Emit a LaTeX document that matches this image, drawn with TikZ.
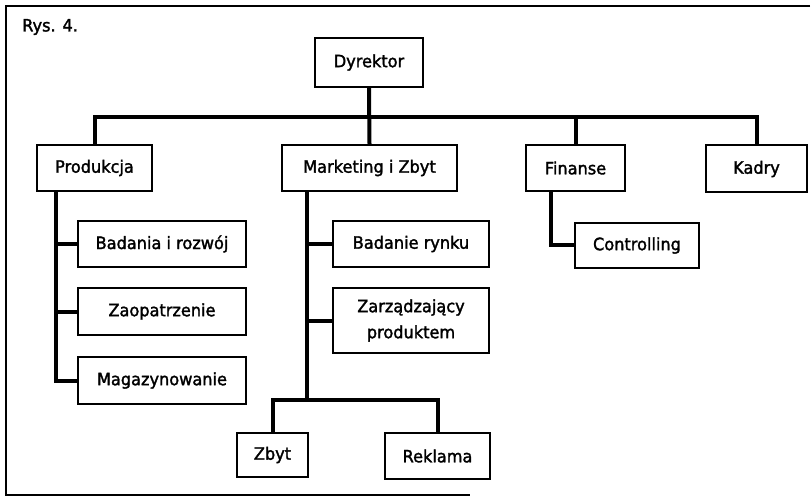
\documentclass[tikz,border=0pt]{standalone}
\usepackage{fontspec}
\setmainfont{DejaVu Sans}[FakeBold=1.8, FakeStretch=0.95]
\usetikzlibrary{calc}
\begin{document}
\begin{tikzpicture}[x=1bp,y=-1bp,
  unit/.style={draw, line width=2bp, inner sep=2bp, align=center,
    font=\fontsize{17bp}{26bp}\selectfont},
  link/.style={line width=4bp, line join=miter},
  frame/.style={line width=1.5bp}]
\useasboundingbox (0,0) rectangle (811,498);

% outer frame (open on the right)
\draw[frame] (810,6) -- (6,6) -- (6,495) -- (470,495);
\node[anchor=west, inner sep=0pt, font=\fontsize{17bp}{19bp}\selectfont] (rys) at (22,27) {Rys. 4.};

% top level
\node[unit, minimum width=108bp, minimum height=49bp] (dyr) at (369,62.5) {Dyrektor};

% second level
\node[unit, minimum width=115bp, minimum height=46bp] (prod) at (94.5,168) {Produkcja};
\node[unit, minimum width=175bp, minimum height=46bp] (mkt) at (369.5,168) {Marketing i Zbyt};
\node[unit, minimum width=99bp, minimum height=46bp] (fin) at (575.5,168) {Finanse};
\node[unit, minimum width=101bp, minimum height=47bp] (kad) at (756.5,169) {Kadry};

% production departments
\node[unit, minimum width=168bp, minimum height=46bp] (bir) at (162,244) {Badania i rozwój};
\node[unit, minimum width=168bp, minimum height=47bp] (zao) at (162,311.5) {Zaopatrzenie};
\node[unit, minimum width=168bp, minimum height=47bp] (mag) at (162,380.5) {Magazynowanie};

% marketing departments
\node[unit, minimum width=156bp, minimum height=46bp] (bry) at (411,244) {Badanie rynku};
\node[unit, minimum width=156bp, minimum height=65bp] (zpr) at (411,320.5) {Zarządzający\\produktem};
\node[unit, minimum width=71bp, minimum height=44bp] (zby) at (272.5,455) {Zbyt};
\node[unit, minimum width=105bp, minimum height=46bp] (rek) at (437.5,456) {Reklama};

% finance department
\node[unit, minimum width=124bp, minimum height=45bp] (ctl) at (637,245.5) {Controlling};

% connectors: director to second level
\coordinate (bus) at (369,117);
\draw[link] (prod.north) |- (bus) -| (kad.north);
\draw[link] (fin.north) |- (bus);
\draw[link] (dyr.south) -- (mkt.north);

% production trunk
\coordinate (pt) at ($(prod.south west)+(20,0)$);
\draw[link] (pt) |- (mag.west);
\draw[link] (pt |- bir.west) -- (bir.west);
\draw[link] (pt |- zao.west) -- (zao.west);

% marketing trunk
\coordinate (mt) at ($(mkt.south west)+(26,0)$);
\coordinate (mb) at (mt |- 0,400);
\draw[link] (mt) -- (mb);
\draw[link] (mt |- bry.west) -- (bry.west);
\draw[link] (mt |- zpr.west) -- (zpr.west);
\draw[link] (zby.north) |- (mb) -| (rek.north);

% finance trunk
\coordinate (ft) at ($(fin.south west)+(26,0)$);
\draw[link] (ft) |- (ctl.west);
\end{tikzpicture}
\end{document}
